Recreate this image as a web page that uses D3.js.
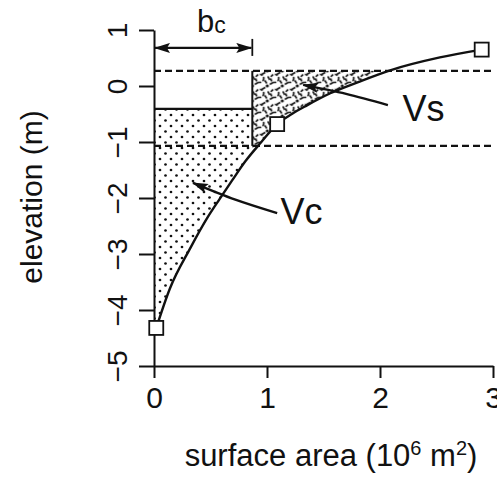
<!DOCTYPE html>
<html>
<head>
<meta charset="utf-8">
<script src="https://cdn.jsdelivr.net/npm/d3@7"></script>
<style>
  html, body { margin: 0; padding: 0; background: #fff; }
  svg { display: block; }
  text { font-family: "Liberation Sans", Arial, Helvetica, sans-serif; fill: #111; }
</style>
</head>
<body>
<svg id="chart" width="497" height="486"></svg>
<script>
// Hypsometric curve: surface area (10^6 m^2) vs elevation (m)
const curveArea = [0.02, 0.14, 0.32, 0.47, 0.58, 0.69, 0.81, 0.95, 1.09, 1.22, 1.35, 1.56, 1.82, 2.09, 2.53, 2.90];
const curveElev = [-4.32, -3.62, -2.90, -2.36, -2.02, -1.69, -1.34, -1.00, -0.68, -0.50, -0.35, -0.13, 0.08, 0.28, 0.51, 0.65];

// Surveyed points (square markers)
const pointArea = [0.02, 1.09, 2.90];
const pointElev = [-4.32, -0.68, 0.65];

// Reference levels and basin width
const levelHigh = 0.27;   // upper dashed level
const levelLow = -1.07;   // lower dashed level
const levelMid = -0.41;   // top of Vc
const bcWidth = 0.87;     // b_c

const xTicks = [0, 1, 2, 3];
const yTicks = [-5, -4, -3, -2, -1, 0, 1];

const svg = d3.select("#chart");
const x = d3.scaleLinear().domain([0, 3]).range([154, 493]);
const y = d3.scaleLinear().domain([-5, 1]).range([366, 30]);

const curvePts = curveArea.map((a, i) => ({ a, e: curveElev[i] }));
const points = pointArea.map((a, i) => ({ a, e: pointElev[i] }));
const intFmt = d3.format("d");

const defs = svg.append("defs");

// stipple for Vc
const dots = defs.append("pattern").attr("id", "stipple")
  .attr("patternUnits", "userSpaceOnUse").attr("width", 11).attr("height", 11)
  .attr("x", x(0) + 4).attr("y", 3);
dots.append("circle").attr("cx", 2).attr("cy", 2).attr("r", 1.35).attr("fill", "#111");
dots.append("circle").attr("cx", 7.5).attr("cy", 7.5).attr("r", 1.35).attr("fill", "#111");

// dense circle-and-dash texture for Vs
const hatch = defs.append("pattern").attr("id", "hatch")
  .attr("patternUnits", "userSpaceOnUse").attr("width", 15).attr("height", 15)
  .attr("x", x(bcWidth)).attr("y", y(levelHigh));
hatch.append("circle").attr("cx", 7.5).attr("cy", 7.5).attr("r", 4)
  .attr("fill", "none").attr("stroke", "#111").attr("stroke-width", 1.7)
  .attr("stroke-dasharray", "3,1.6");
[[0, 0], [15, 0], [0, 15], [15, 15]].forEach(([cx, cy]) =>
  hatch.append("circle").attr("cx", cx).attr("cy", cy).attr("r", 1.6).attr("fill", "#111"));
hatch.append("path").attr("d", "M2.5,13.5 L6,11.5 M9.5,3.5 L13,1.5 M12.5,9.5 L14.5,12.5 M0.5,5.5 L2.5,9")
  .attr("stroke", "#111").attr("stroke-width", 1.6);

// region above (left of) the curve
const above = d3.area()
  .x(d => x(d.a)).y0(d => y(d.e)).y1(y(1.2))
  .curve(d3.curveMonotoneX);
const clip = defs.append("clipPath").attr("id", "aboveCurve");
clip.append("path").attr("d", above(curvePts));
clip.append("rect").attr("x", x(0) - 1).attr("y", y(1.2))
  .attr("width", x(curveArea[0]) - x(0) + 1.5).attr("height", y(curveElev[0]) - y(1.2));

// arrowhead
defs.append("marker").attr("id", "head")
  .attr("markerUnits", "userSpaceOnUse")
  .attr("viewBox", "0 0 16 10").attr("refX", 15).attr("refY", 5)
  .attr("markerWidth", 16).attr("markerHeight", 10)
  .attr("orient", "auto-start-reverse")
  .append("path").attr("d", "M0,0 L16,5 L0,10 L3,5 Z").attr("fill", "#111");

// Vc: stippled volume
svg.append("g").attr("clip-path", "url(#aboveCurve)")
  .append("rect")
  .attr("x", x(0)).attr("y", y(levelMid))
  .attr("width", x(bcWidth) - x(0)).attr("height", y(curveElev[0]) - y(levelMid))
  .attr("fill", "url(#stipple)");

// Vs: textured volume
svg.append("g").attr("clip-path", "url(#aboveCurve)")
  .append("rect")
  .attr("x", x(bcWidth)).attr("y", y(levelHigh))
  .attr("width", x(3) - x(bcWidth)).attr("height", y(-1.6) - y(levelHigh))
  .attr("fill", "url(#hatch)");

// dashed levels
[levelHigh, levelLow].forEach(v => {
  svg.append("line")
    .attr("x1", x(0)).attr("x2", x(3)).attr("y1", y(v)).attr("y2", y(v))
    .attr("stroke", "#111").attr("stroke-width", 2.2).attr("stroke-dasharray", "7,4");
});

// top of Vc and the b_c boundary
svg.append("line")
  .attr("x1", x(0)).attr("x2", x(bcWidth)).attr("y1", y(levelMid)).attr("y2", y(levelMid))
  .attr("stroke", "#111").attr("stroke-width", 2.2);
svg.append("line")
  .attr("x1", x(bcWidth)).attr("x2", x(bcWidth)).attr("y1", y(levelHigh)).attr("y2", y(levelLow))
  .attr("stroke", "#111").attr("stroke-width", 2);

// axes
const yAxis = svg.append("g").attr("transform", `translate(${x(0)},0)`)
  .call(d3.axisLeft(y).tickValues(yTicks).tickSize(15).tickSizeOuter(0).tickFormat(intFmt));
yAxis.selectAll("path, line").attr("stroke", "#111").attr("stroke-width", 2);
yAxis.selectAll("text")
  .attr("x", null).attr("dy", null)
  .attr("transform", "translate(-27,0) rotate(-90)")
  .attr("text-anchor", "middle")
  .style("font-size", "28px").style("font-family", "Liberation Sans, Arial, sans-serif")
  .attr("fill", "#111");

const xAxis = svg.append("g").attr("transform", `translate(0,${y(-5)})`)
  .call(d3.axisBottom(x).tickValues(xTicks).tickSize(12).tickSizeOuter(0).tickFormat(intFmt));
xAxis.selectAll("path, line").attr("stroke", "#111").attr("stroke-width", 2);
xAxis.selectAll("text")
  .attr("y", 42).attr("dy", null)
  .style("font-size", "30px").style("font-family", "Liberation Sans, Arial, sans-serif")
  .attr("fill", "#111");

// hypsometric curve
svg.append("path")
  .attr("d", d3.line().x(d => x(d.a)).y(d => y(d.e)).curve(d3.curveMonotoneX)(curvePts))
  .attr("fill", "none").attr("stroke", "#111").attr("stroke-width", 2.4);

// square markers
svg.selectAll("rect.pt").data(points).join("rect").attr("class", "pt")
  .attr("x", d => x(d.a) - 7).attr("y", d => y(d.e) - 7)
  .attr("width", 14).attr("height", 14)
  .attr("fill", "#fff").attr("stroke", "#111").attr("stroke-width", 1.8);

// b_c dimension arrow
svg.append("line")
  .attr("x1", x(0) + 1).attr("x2", x(bcWidth) - 1).attr("y1", y(0.68)).attr("y2", y(0.68))
  .attr("stroke", "#111").attr("stroke-width", 2.2)
  .attr("marker-start", "url(#head)").attr("marker-end", "url(#head)");
svg.append("line")
  .attr("x1", x(bcWidth)).attr("x2", x(bcWidth)).attr("y1", y(0.68) - 9).attr("y2", y(0.68) + 8)
  .attr("stroke", "#111").attr("stroke-width", 1.8);
const bcLabel = svg.append("text").attr("x", x(0.38)).attr("y", y(0.96))
  .style("font-size", "31px");
bcLabel.append("tspan").text("b");
bcLabel.append("tspan").attr("dy", 1).style("font-size", "23px").text("c");

// volume labels with pointers
svg.append("path")
  .attr("d", d3.line().x(d => x(d[0])).y(d => y(d[1])).curve(d3.curveNatural)(
    [[2.07, -0.34], [1.70, -0.14], [1.32, 0.02]]))
  .attr("fill", "none").attr("stroke", "#111").attr("stroke-width", 2.4)
  .attr("marker-end", "url(#head)");
svg.append("text").attr("x", x(2.2)).attr("y", y(-0.63))
  .style("font-size", "36px").text("Vs");

svg.append("path")
  .attr("d", d3.line().x(d => x(d[0])).y(d => y(d[1])).curve(d3.curveNatural)(
    [[1.09, -2.27], [0.72, -2.03], [0.345, -1.73]]))
  .attr("fill", "none").attr("stroke", "#111").attr("stroke-width", 2.4)
  .attr("marker-end", "url(#head)");
svg.append("text").attr("x", x(1.12)).attr("y", y(-2.46))
  .style("font-size", "36px").text("Vc");

// axis titles
const xt = svg.append("text").attr("x", 331).attr("y", 466)
  .attr("text-anchor", "middle").style("font-size", "31px");
xt.append("tspan").text("surface area (10");
xt.append("tspan").attr("dy", -11).style("font-size", "20px").text("6");
xt.append("tspan").attr("dy", 11).text(" m");
xt.append("tspan").attr("dy", -11).style("font-size", "20px").text("2");
xt.append("tspan").attr("dy", 11).text(")");

svg.append("text")
  .attr("transform", "translate(42,197) rotate(-90)")
  .attr("text-anchor", "middle").style("font-size", "30px")
  .text("elevation (m)");
</script>
</body>
</html>
